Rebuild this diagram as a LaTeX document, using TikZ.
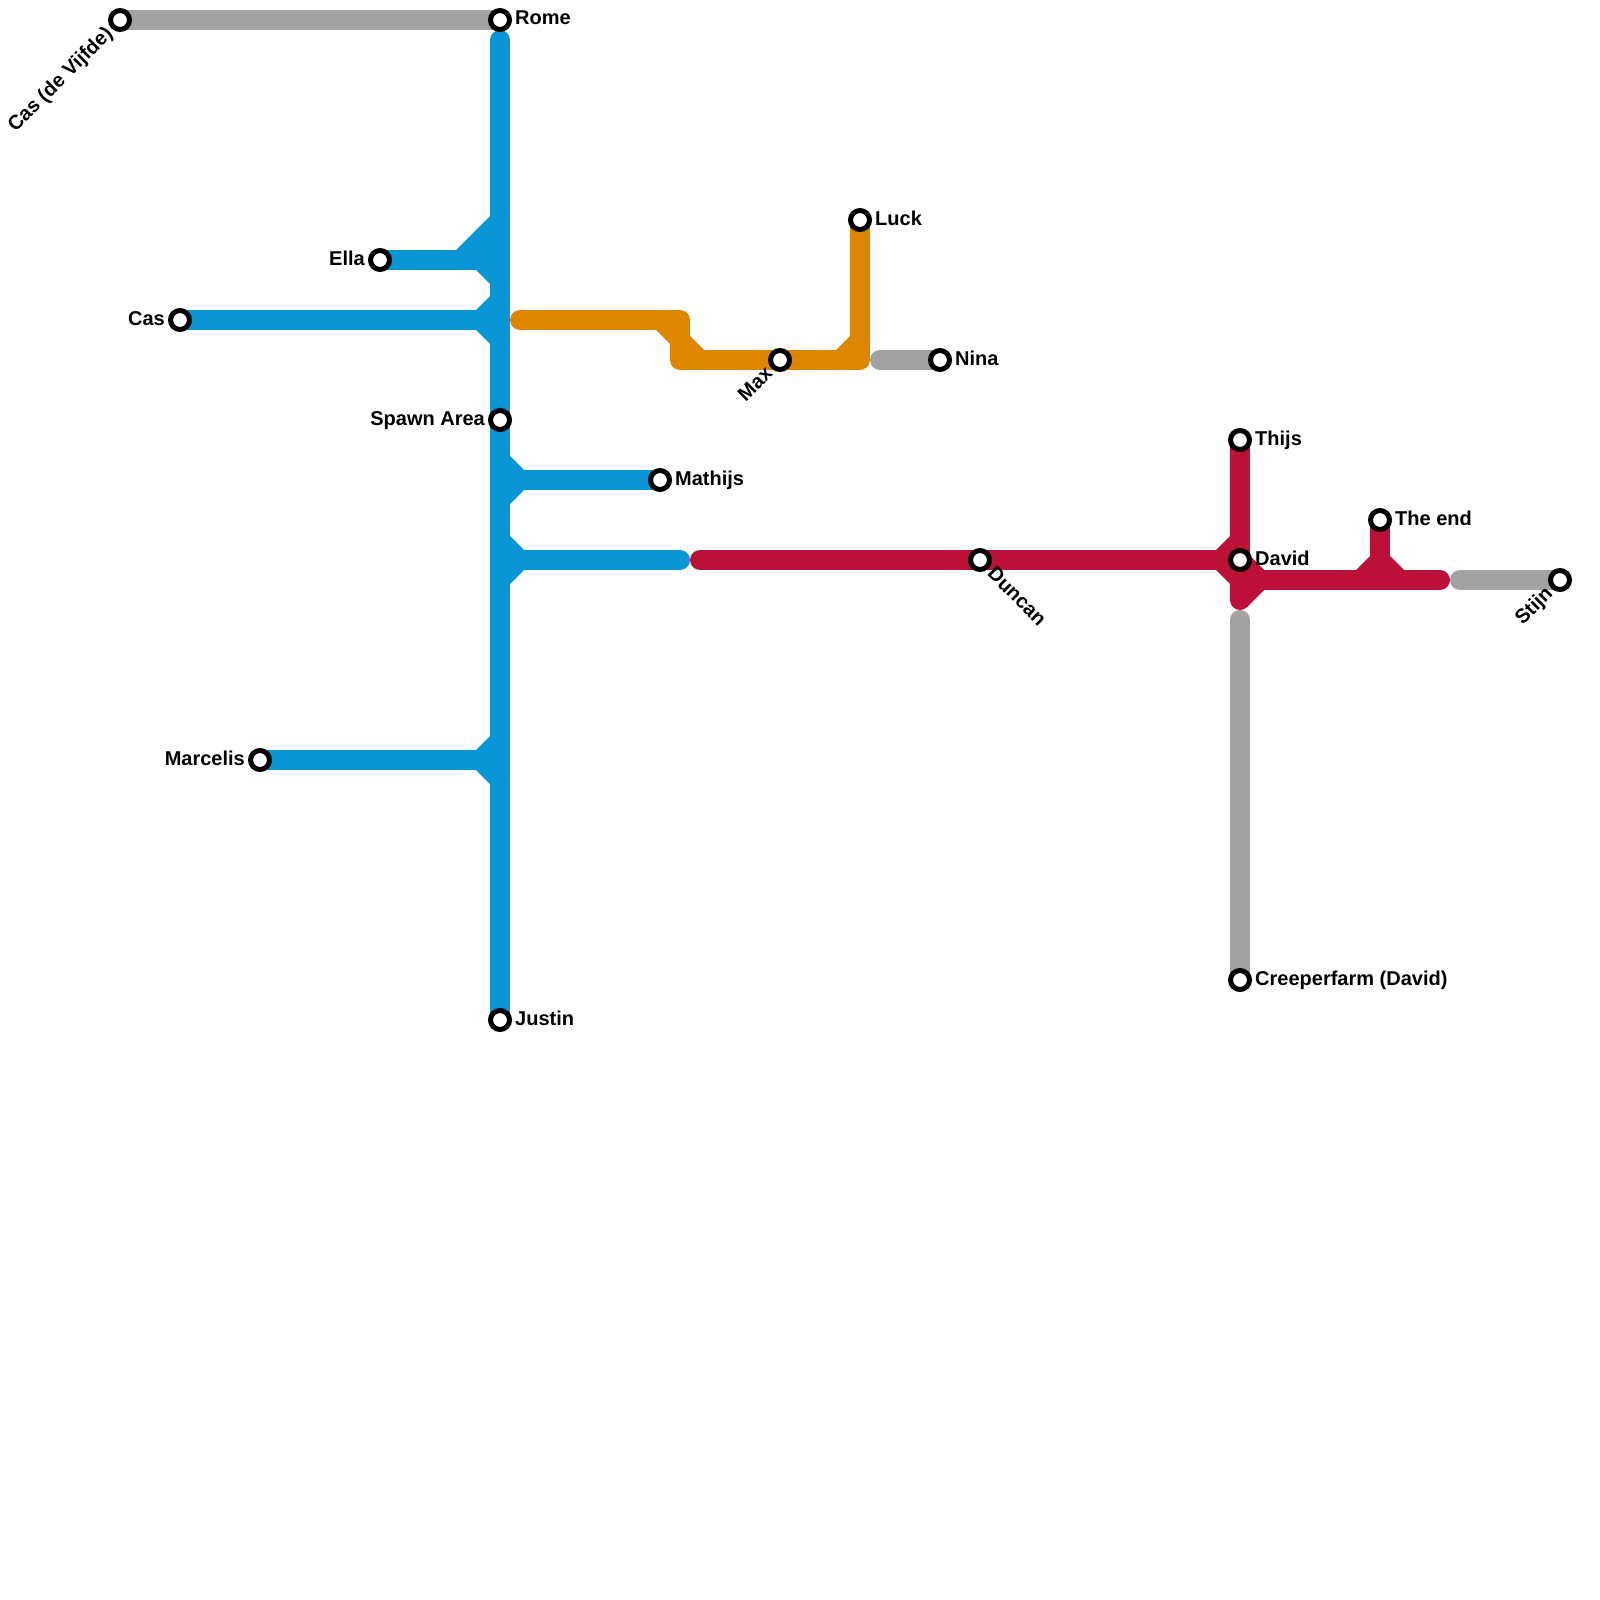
\documentclass[tikz,border=0pt]{standalone}
\usepackage{fontspec}
\setmainfont{Liberation Sans}
\usetikzlibrary{backgrounds}
\definecolor{lineblue}{HTML}{0896D7}
\definecolor{linegray}{HTML}{A2A2A2}
\definecolor{lineorange}{HTML}{DF8600}
\definecolor{linered}{HTML}{BD1038}
\begin{document}
\begin{tikzpicture}[
    x=1pt, y=-1pt,
    rail/.style={line width=20pt, line cap=round, line join=round},
    stop/.style={circle, draw=black, fill=white, line width=5pt, inner sep=0pt, outer sep=0pt, minimum size=19pt},
    txt/.style={font=\fontsize{20}{22}\selectfont\bfseries, inner sep=0pt, text=black},
    toright/.style={txt, anchor=base west, xshift=15pt, yshift=-5pt},
    toleft/.style={txt, anchor=base east, xshift=-15pt, yshift=-5pt},
    tosw/.style={txt, rotate=45, anchor=base east, xshift=-15pt, yshift=-6pt},
    tose/.style={txt, rotate=-45, anchor=base west, xshift=15pt, yshift=-6pt},
  ]
  \useasboundingbox (0,0) rectangle (1600,1600);

  % Helper macro: \stopat{name}{x}{y}{label style}{text}
  \newcommand{\stopat}[5]{%
    \node[stop] (#1) at (#2,#3) {};
    \node[#4] (#1-label) at (#2,#3) {#5};
  }

  % Stations
  \stopat{casv}{120}{20}{tosw}{Cas (de Vijfde)}
  \stopat{rome}{500}{20}{toright}{Rome}
  \stopat{ella}{380}{260}{toleft}{Ella}
  \stopat{cas}{180}{320}{toleft}{Cas}
  \stopat{spawn}{500}{420}{toleft}{Spawn Area}
  \stopat{mathijs}{660}{480}{toright}{Mathijs}
  \stopat{marcelis}{260}{760}{toleft}{Marcelis}
  \stopat{justin}{500}{1020}{toright}{Justin}
  \stopat{luck}{860}{220}{toright}{Luck}
  \stopat{max}{780}{360}{tosw}{Max}
  \stopat{nina}{940}{360}{toright}{Nina}
  \stopat{duncan}{980}{560}{tose}{Duncan}
  \stopat{thijs}{1240}{440}{toright}{Thijs}
  \stopat{david}{1240}{560}{toright}{David}
  \stopat{theend}{1380}{520}{toright}{The end}
  \stopat{stijn}{1560}{580}{tosw}{Stijn}
  \stopat{creeper}{1240}{980}{toright}{Creeperfarm (David)}

  % Free rail ends and corners
  \coordinate (bluetop) at (500,40);
  \coordinate (jella) at (500,260);
  \coordinate (jcas) at (500,320);
  \coordinate (jmathijs) at (500,480);
  \coordinate (jlow) at (500,560);
  \coordinate (blueend) at (680,560);
  \coordinate (jmarcelis) at (500,760);
  \coordinate (orangestart) at (520,320);
  \coordinate (orangea) at (680,320);
  \coordinate (orangeb) at (680,360);
  \coordinate (orangec) at (860,360);
  \coordinate (ninastart) at (880,360);
  \coordinate (redstart) at (700,560);
  \coordinate (reddown) at (1240,600);
  \coordinate (redb) at (1240,580);
  \coordinate (redc) at (1380,580);
  \coordinate (redend) at (1440,580);
  \coordinate (stijnstart) at (1460,580);
  \coordinate (creepertop) at (1240,620);

  \begin{pgfonlayer}{background}
    % Gray lines
    \draw[rail, linegray] (casv.center) -- (rome.center);
    \draw[rail, linegray] (ninastart) -- (nina.center);
    \draw[rail, linegray] (stijnstart) -- (stijn.center);
    \draw[rail, linegray] (creepertop) -- (creeper.center);

    % Blue line
    \draw[rail, lineblue] (bluetop) -- (justin.center);
    \draw[rail, lineblue] (ella.center) -- (jella);
    \draw[rail, lineblue] (cas.center) -- (jcas);
    \draw[rail, lineblue] (marcelis.center) -- (jmarcelis);
    \draw[rail, lineblue] (jmathijs) -- (mathijs.center);
    \draw[rail, lineblue] (jlow) -- (blueend);
    \fill[lineblue] (456,250) -- (490,216) -- (490,284) -- (476,270) -- cycle;
    \foreach \yy in {320,760} {
      \fill[lineblue] (476,{\yy-10}) -- (490,{\yy-24}) -- (490,{\yy+24}) -- (476,{\yy+10}) -- cycle;
    }
    \foreach \yy in {480,560} {
      \fill[lineblue] (524,{\yy-10}) -- (510,{\yy-24}) -- (510,{\yy+24}) -- (524,{\yy+10}) -- cycle;
    }

    % Orange line
    \draw[rail, lineorange] (orangestart) -- (orangea) -- (orangeb) -- (orangec) -- (luck.center);
    \fill[lineorange] (656,330) -- (670,344) -- (670,330) -- cycle;
    \fill[lineorange] (690,336) -- (704,350) -- (690,350) -- cycle;
    \fill[lineorange] (836,350) -- (850,336) -- (850,350) -- cycle;

    % Red line
    \draw[rail, linered] (redstart) -- (david.center);
    \draw[rail, linered] (thijs.center) -- (reddown);
    \draw[rail, linered] (redb) -- (redend);
    \draw[rail, linered] (theend.center) -- (redc);
    \fill[linered] (1216,550) -- (1230,536) -- (1230,584) -- (1216,570) -- cycle;
    \fill[linered] (1250,556) -- (1264,570) -- (1264,590) -- (1247,607) -- (1240,600) -- (1250,580) -- cycle;
    \fill[linered] (1356,570) -- (1370,556) -- (1390,556) -- (1404,570) -- cycle;
  \end{pgfonlayer}
\end{tikzpicture}
\end{document}
